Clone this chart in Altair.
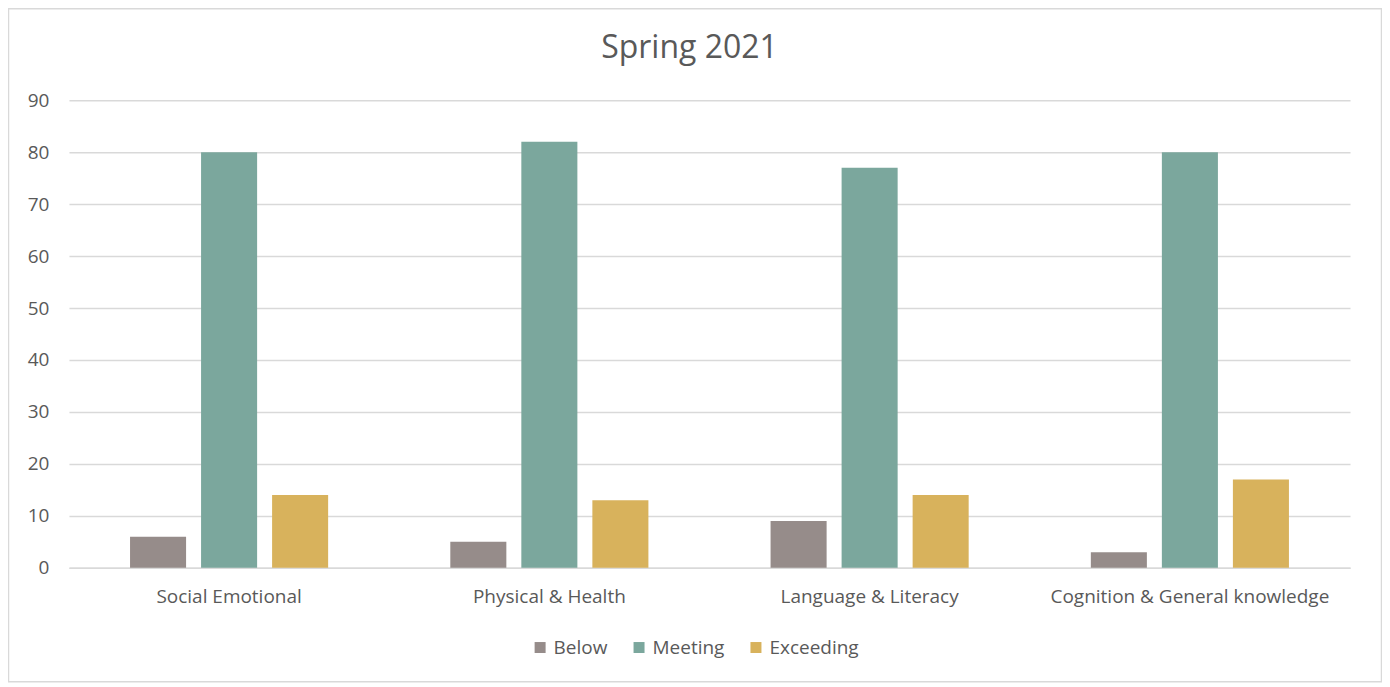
import altair as alt
import pandas as pd

categories = ["Social Emotional", "Physical & Health", "Language & Literacy", "Cognition & General knowledge"]
series = ["Below", "Meeting", "Exceeding"]
below = [6, 5, 9, 3]
meeting = [80, 82, 77, 80]
exceeding = [14, 13, 14, 17]
colors = ["#968C8A", "#7BA79D", "#D8B25C"]

rows = []
for i, c in enumerate(categories):
    for s, vals in zip(series, [below, meeting, exceeding]):
        rows.append({"category": c, "series": s, "value": vals[i]})
df = pd.DataFrame(rows)

W, H = 1282, 468
FONT = "Open Sans"
TXT = "#595959"

bars = alt.Chart(df).mark_bar().encode(
    x=alt.X("category:N", sort=categories, title=None,
            scale=alt.Scale(paddingInner=0, paddingOuter=0),
            axis=alt.Axis(labelAngle=0, labelFontSize=19, labelColor=TXT, labelFont=FONT,
                          labelPadding=20, labelLimit=0, ticks=False, domain=True,
                          domainColor="#d9d9d9", domainWidth=1.5, grid=False)),
    xOffset=alt.XOffset("series:N", sort=series,
                        scale=alt.Scale(paddingInner=0.211, paddingOuter=0.86)),
    y=alt.Y("value:Q", title=None,
            scale=alt.Scale(domain=[0, 90], nice=False),
            axis=alt.Axis(values=list(range(0, 91, 10)), labelFontSize=19, labelColor=TXT,
                          labelFont=FONT, labelPadding=20, ticks=False, domain=False,
                          gridColor="#d9d9d9", gridWidth=1.5)),
    color=alt.Color("series:N", sort=series,
                    scale=alt.Scale(domain=series, range=colors),
                    legend=alt.Legend(title=None, orient="none", direction="horizontal",
                                      legendX=462, legendY=538, symbolType="square",
                                      symbolSize=121, symbolStrokeWidth=0, labelFontSize=19,
                                      labelColor=TXT, labelFont=FONT, columnPadding=22,
                                      labelOffset=4)),
)

border = alt.Chart(pd.DataFrame({"a": [0]})).mark_rect(
    fill=None, stroke="#d9d9d9", strokeWidth=1.5
).encode(
    x=alt.value(-60.5), x2=alt.value(W + 31.5),
    y=alt.value(-91.5), y2=alt.value(H + 114),
)

chart = alt.layer(border, bars).properties(
    width=W, height=H,
    title=alt.TitleParams("Spring 2021", fontSize=32, font=FONT, color=TXT,
                          fontWeight="normal", anchor="middle", offset=-57, dx=-20),
    autosize=alt.AutoSizeParams(type="none"),
    padding={"left": 61, "top": 92, "right": 32, "bottom": 115},
).configure(background="white", view=alt.ViewConfig(stroke=None))

chart.save("out.html", embed_options={"renderer": "svg", "actions": False})
